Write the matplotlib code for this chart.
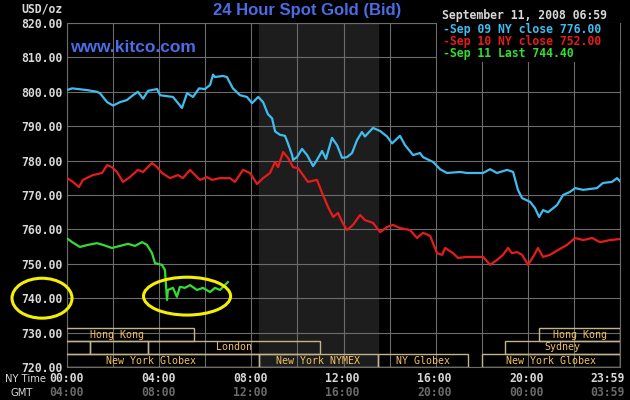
import matplotlib

matplotlib.use("Agg")
import matplotlib.pyplot as plt
import matplotlib.transforms as mtransforms
from matplotlib.patches import Ellipse, Rectangle
import numpy as np

# --- data (hours after 00:00 NY time, USD/oz) ---
sep09_hours = [0.00, 0.22, 0.87, 1.30, 1.43, 1.74, 2.00, 2.30, 2.60, 2.86, 3.08, 3.30,
               3.52, 3.91, 4.04, 4.60, 4.99, 5.21, 5.47, 5.73, 5.99, 6.21, 6.34, 6.42,
               6.77, 6.94, 7.20, 7.51, 7.81, 8.03, 8.30, 8.51, 8.72, 8.90, 9.03, 9.24,
               9.46, 9.59, 9.77, 9.81, 9.98, 10.20, 10.42, 10.68, 10.85, 11.07, 11.24,
               11.50, 11.72, 11.94, 12.15, 12.37, 12.59, 12.80, 12.93, 13.28, 13.59,
               13.89, 14.11, 14.45, 14.67, 15.02, 15.32, 15.45, 15.89, 16.19, 16.49,
               17.06, 17.36, 18.06, 18.36, 18.66, 19.10, 19.36, 19.57, 19.75, 20.10,
               20.31, 20.49, 20.66, 20.88, 21.27, 21.53, 21.83, 22.05, 22.40, 23.00,
               23.26, 23.65, 23.87, 24.00]
sep09_price = [800.5, 801.0, 800.5, 800.0, 799.6, 797.0, 796.0, 797.0, 797.6, 799.0, 800.0, 798.0,
               800.3, 800.8, 799.0, 798.5, 795.3, 799.6, 798.5, 801.0, 800.8, 802.0, 805.0, 804.3,
               804.6, 804.3, 801.0, 799.0, 798.5, 796.7, 798.5, 797.0, 793.5, 792.3, 788.5, 787.5,
               787.2, 785.0, 781.6, 780.2, 781.0, 783.4, 781.6, 778.4, 780.2, 782.8, 780.5,
               786.6, 784.5, 780.8, 781.0, 782.2, 786.0, 788.3, 787.0, 789.5, 788.6,
               787.0, 785.0, 787.2, 784.5, 781.6, 782.2, 781.0, 779.6, 777.5, 776.4,
               776.7, 776.4, 776.4, 777.5, 776.4, 777.3, 776.7, 771.5, 769.1, 768.0,
               766.2, 763.6, 765.6, 765.0, 767.1, 770.0, 770.9, 772.0, 771.5, 772.0,
               773.5, 773.8, 774.9, 774.0]

sep10_hours = [0.00, 0.26, 0.52, 0.69, 1.13, 1.52, 1.74, 1.95, 2.17, 2.43, 2.73, 3.08,
               3.30, 3.69, 3.91, 4.12, 4.47, 4.82, 5.03, 5.34, 5.56, 5.77, 6.08, 6.29,
               6.64, 7.07, 7.29, 7.64, 7.94, 8.25, 8.51, 8.81, 9.03, 9.16, 9.38, 9.59,
               9.81, 10.03, 10.24, 10.46, 10.85, 11.07, 11.33, 11.55, 11.76, 11.94,
               12.15, 12.41, 12.72, 12.93, 13.28, 13.59, 13.89, 14.15, 14.45, 14.89,
               15.19, 15.45, 15.67, 15.76, 16.06, 16.28, 16.41, 16.75, 16.97, 17.36,
               18.06, 18.36, 18.66, 18.92, 19.14, 19.31, 19.53, 19.75, 20.01, 20.23,
               20.44, 20.66, 20.96, 21.31, 21.70, 22.05, 22.40, 22.79, 23.13, 23.57, 24.00]
sep10_price = [774.9, 773.8, 772.3, 774.4, 775.8, 776.4, 778.7, 778.1, 776.7, 773.8, 775.2, 777.3,
               776.7, 779.3, 778.1, 776.4, 774.9, 775.8, 774.9, 777.3, 775.8, 774.4, 775.2, 774.4,
               774.9, 774.9, 773.8, 777.3, 776.4, 773.2, 774.9, 776.4, 779.6, 778.1, 782.5, 780.8,
               778.1, 777.8, 775.8, 773.8, 774.4, 770.6, 766.5, 763.6, 764.8, 762.2,
               759.8, 761.3, 764.2, 762.7, 761.9, 759.2, 760.7, 761.3, 760.4, 759.8,
               757.5, 759.0, 758.4, 758.1, 753.1, 752.6, 754.6, 753.1, 751.7, 752.0,
               752.0, 749.7, 751.1, 752.6, 754.6, 753.1, 753.4, 752.6, 749.7, 752.0,
               754.6, 752.0, 752.6, 754.0, 755.5, 757.5, 756.9, 757.5, 756.3, 756.9, 757.2]

sep11_hours = [0.04, 0.22, 0.56, 0.91, 1.30, 1.56, 1.95, 2.30, 2.65, 2.95, 3.26, 3.47,
               3.69, 3.82, 4.12, 4.25, 4.34, 4.38, 4.60, 4.77, 4.90, 5.12, 5.34, 5.64,
               5.90, 6.21, 6.42, 6.64, 6.98]
sep11_price = [757.2, 756.3, 754.9, 755.5, 756.0, 755.5, 754.6, 755.2, 755.8, 755.2, 756.3, 755.5,
               753.1, 750.2, 749.7, 748.2, 739.5, 742.4, 743.0, 740.4, 743.3, 743.0, 743.8, 742.4,
               743.0, 741.8, 743.0, 742.4, 744.7]

legend_labels = ["Sep 09 NY close", "Sep 10 NY close", "Sep 11 Last"]
legend_values = [776.00, 752.00, 744.40]
timestamp = "September 11, 2008 06:59"

ny_ticks = [0, 4, 8, 12, 16, 20, 24]
ny_labels = ["00:00", "04:00", "08:00", "12:00", "16:00", "20:00", "23:59"]
gmt_labels = ["04:00", "08:00", "12:00", "16:00", "20:00", "00:00", "03:59"]
price_ticks = [720, 730, 740, 750, 760, 770, 780, 790, 800, 810, 820]

# trading sessions: name, start hour, end hour, row (0 = top)
session_names = ["Hong Kong", "Hong Kong", "", "", "London", "Sydney",
                 "New York Globex", "New York NYMEX", "NY Globex", "New York Globex"]
session_start = [-1.2, 20.5, -1.0, 1.0, 3.5, 19.0, -1.0, 8.33, 13.5, 18.0]
session_end = [5.5, 24.0, 1.0, 3.5, 11.0, 24.0, 8.33, 13.5, 17.4, 24.0]
session_row = [0, 0, 1, 1, 1, 1, 2, 2, 2, 2]
nymex_open, nymex_close = 8.33, 13.5

CYAN = "#3fbdf0"
RED = "#e61c1c"
GREEN = "#35dc35"
GRID = "#6c6c6c"
LABEL = "#d8d8d8"
BLUE = "#4a6ce6"
MONO = "DejaVu Sans Mono"

fig = plt.figure(figsize=(6.3, 4.0), dpi=100, facecolor="black")
ax = fig.add_axes([67 / 630, 33 / 400, 553 / 630, 344 / 400], facecolor="black")
ax.set_xlim(0, 24)
ax.set_ylim(720, 820)

ax.axvspan(nymex_open, nymex_close, color="#1d1d1d", zorder=0)

ax.set_xticks(range(0, 25, 2))
ax.set_xticklabels([])
ax.set_yticks(price_ticks)
ax.set_yticklabels([f"{v:.2f}" for v in price_ticks], family=MONO,
                   fontsize=8.3, fontweight="bold", color=LABEL)
ax.tick_params(length=0, pad=3)
ax.grid(True, color=GRID, linewidth=0.8)
for spine in ax.spines.values():
    spine.set_color(GRID)
    spine.set_linewidth(0.8)

ax.plot(sep09_hours, sep09_price, color=CYAN, lw=1.6, zorder=3)
ax.plot(sep10_hours, sep10_price, color=RED, lw=1.6, zorder=3)
ax.plot(sep11_hours, sep11_price, color=GREEN, lw=1.6, zorder=3)

# session boxes along the bottom
row_h = 13 / 344
sess_tr = mtransforms.blended_transform_factory(ax.transData, ax.transAxes)
for name, s, e, r in zip(session_names, session_start, session_end, session_row):
    y0 = (2 - r) * row_h
    ax.add_patch(Rectangle((s, y0), e - s, row_h, fill=False, edgecolor="#c2b58c",
                           lw=1.0, transform=sess_tr, zorder=4))
    if name:
        ax.text((s + e) / 2, y0 + row_h / 2, name, transform=sess_tr, ha="center",
                va="center", family=MONO, fontsize=7.2, color="#f2c064", zorder=5)

# legend box
ax.add_patch(Rectangle((370 / 553, 305 / 344), 183 / 553, 39 / 344, facecolor="black",
                       edgecolor="none", transform=ax.transAxes, zorder=4))
for i, (lab, val, col) in enumerate(zip(legend_labels, legend_values, [CYAN, RED, GREEN])):
    fig.text(443 / 630, 1 - (29 + 12 * i) / 400, f"-{lab} {val:.2f}", family=MONO,
             fontsize=8.3, fontweight="bold", color=col, va="center", ha="left")

fig.text(442 / 630, 1 - 15 / 400, timestamp, family=MONO, fontsize=8.3,
         fontweight="bold", color=LABEL, va="center", ha="left")
fig.text(63 / 630, 1 - 8.5 / 400, "USD/oz", family=MONO, fontsize=8.3,
         fontweight="bold", color=LABEL, va="center", ha="right")

fig.text(307 / 630, 1 - 11 / 400, "24 Hour Spot Gold (Bid)", family="Liberation Sans",
         fontsize=12, fontweight="bold", color=BLUE, va="center", ha="center")
fig.text(70 / 630, 1 - 48 / 400, "www.kitco.com", family="Liberation Sans",
         fontsize=12.5, fontweight="bold", color=BLUE, va="center", ha="left")

# time axis labels (NY and GMT rows)
xtr = mtransforms.blended_transform_factory(ax.transData, fig.transFigure)
for i, (h, ny, gmt) in enumerate(zip(ny_ticks, ny_labels, gmt_labels)):
    ha = "right" if i == len(ny_ticks) - 1 else "center"
    tr = mtransforms.offset_copy(xtr, fig=fig, x=5 if ha == "right" else -1, units="dots")
    fig.text(h, 1 - 379 / 400, ny, transform=tr, family=MONO, fontsize=8.3,
             fontweight="bold", color=LABEL, va="center", ha=ha)
    fig.text(h, 1 - 393 / 400, gmt, transform=tr, family=MONO, fontsize=8.3,
             fontweight="bold", color="#6a6a6a", va="center", ha=ha)
fig.text(5 / 630, 1 - 379 / 400, "NY Time", family="DejaVu Sans", fontsize=7.2,
         color=LABEL, va="center", ha="left")
fig.text(22 / 630, 1 - 393 / 400, "GMT", family="DejaVu Sans", fontsize=7.2,
         color=LABEL, va="center", ha="center")

# yellow highlight rings
ftr = mtransforms.blended_transform_factory(fig.transFigure, ax.transData)
fig.patches.append(Ellipse((42 / 630, 740.0), 60 / 630, 11.6, transform=ftr,
                           fill=False, edgecolor="#f4f000", lw=2.2))
ax.add_patch(Ellipse((5.21, 740.6), 3.78, 11.0, fill=False, edgecolor="#f4f000",
                     lw=2.2, zorder=6, clip_on=False))

fig.savefig("out.png", dpi=100, facecolor="black")
